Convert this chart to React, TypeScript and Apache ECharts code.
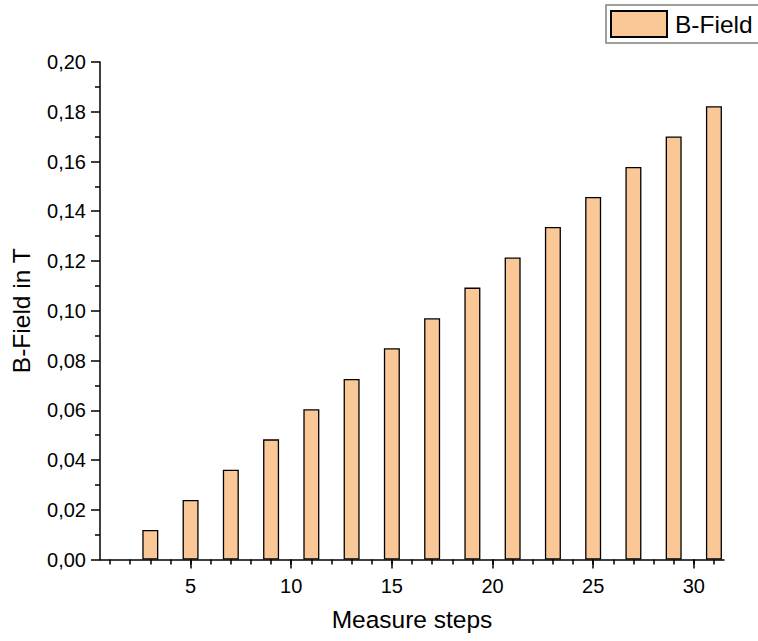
import React, { useEffect, useRef } from "react";
import * as echarts from "echarts";

const steps = [3, 5, 7, 9, 11, 13, 15, 17, 19, 21, 23, 25, 27, 29, 31];
const bField = [
  0.0119, 0.0239, 0.0361, 0.0483, 0.0604, 0.0726, 0.0849, 0.097, 0.1093,
  0.1214, 0.1337, 0.1457, 0.1578, 0.1701, 0.1822,
];
const xMajorTicks = [5, 10, 15, 20, 25, 30];
const xMinorTicks = [
  1, 2, 3, 4, 5, 6, 7, 8, 9, 10, 11, 12, 13, 14, 15, 16, 17, 18, 19, 20, 21,
  22, 23, 24, 25, 26, 27, 28, 29, 30, 31,
];
const seriesName = "B-Field";
const xTitle = "Measure steps";
const yTitle = "B-Field in T";

const FONT = "'Liberation Sans', Arial, sans-serif";
const BAR_COLOR = "#FAC896";

export default function App() {
  const ref = useRef<HTMLDivElement>(null);

  useEffect(() => {
    if (!ref.current) return;
    const chart = echarts.init(ref.current, undefined, { renderer: "svg" });
    const axisLine = { show: true, lineStyle: { color: "#000", width: 1.5 } };
    chart.setOption({
      animation: false,
      backgroundColor: "#fff",
      textStyle: { fontFamily: FONT },
      grid: { left: 100, right: 34, top: 62, bottom: 81.5 },
      legend: {
        left: 606,
        top: 5,
        padding: [5, 30, 5, 4],
        itemWidth: 56,
        itemHeight: 26,
        icon: "rect",
        borderColor: "#808080",
        borderWidth: 1.5,
        textStyle: {
          fontFamily: FONT,
          fontSize: 24.5,
          color: "#000",
          padding: [0, 0, 0, 3],
        },
        data: [seriesName],
      },
      xAxis: [
        {
          type: "value",
          min: 0.5,
          max: 31.5,
          position: "bottom",
          name: xTitle,
          nameLocation: "middle",
          nameGap: 47,
          nameTextStyle: { fontFamily: FONT, fontSize: 24.5, color: "#000" },
          axisLine,
          splitLine: { show: false },
          axisTick: {
            show: true,
            inside: false,
            length: 9,
            lineStyle: { color: "#000", width: 1.5 },
            customValues: xMajorTicks,
          },
          axisLabel: {
            fontFamily: FONT,
            fontSize: 20,
            color: "#000",
            margin: 16,
            customValues: xMajorTicks,
          },
        },
        {
          type: "value",
          min: 0.5,
          max: 31.5,
          position: "bottom",
          gridIndex: 0,
          axisLine: { show: false },
          splitLine: { show: false },
          axisLabel: { show: false },
          axisTick: {
            show: true,
            inside: false,
            length: 5,
            lineStyle: { color: "#000", width: 1.5 },
            customValues: xMinorTicks,
          },
        },
      ],
      yAxis: {
        type: "value",
        min: 0,
        max: 0.2,
        interval: 0.02,
        name: yTitle,
        nameLocation: "middle",
        nameGap: 66,
        nameRotate: 90,
        nameTextStyle: { fontFamily: FONT, fontSize: 24.5, color: "#000" },
        axisLine,
        splitLine: { show: false },
        axisTick: {
          show: true,
          inside: false,
          length: 9,
          lineStyle: { color: "#000", width: 1.5 },
        },
        minorTick: {
          show: true,
          splitNumber: 2,
          length: 5,
          lineStyle: { color: "#000", width: 1.5 },
        },
        axisLabel: {
          fontFamily: FONT,
          fontSize: 20,
          color: "#000",
          margin: 14,
          formatter: (v: number) => v.toFixed(2).replace(".", ","),
        },
      },
      series: [
        {
          name: seriesName,
          type: "bar",
          xAxisIndex: 0,
          barWidth: 16,
          data: steps.map((s, i) => [s, bField[i]]),
          itemStyle: {
            color: BAR_COLOR,
            borderColor: "#000",
            borderWidth: 1.3,
          },
        },
      ],
    });
    return () => chart.dispose();
  }, []);

  return (
    <div
      ref={ref}
      style={{ position: "fixed", left: 0, top: 0, width: 758, height: 641 }}
    />
  );
}
